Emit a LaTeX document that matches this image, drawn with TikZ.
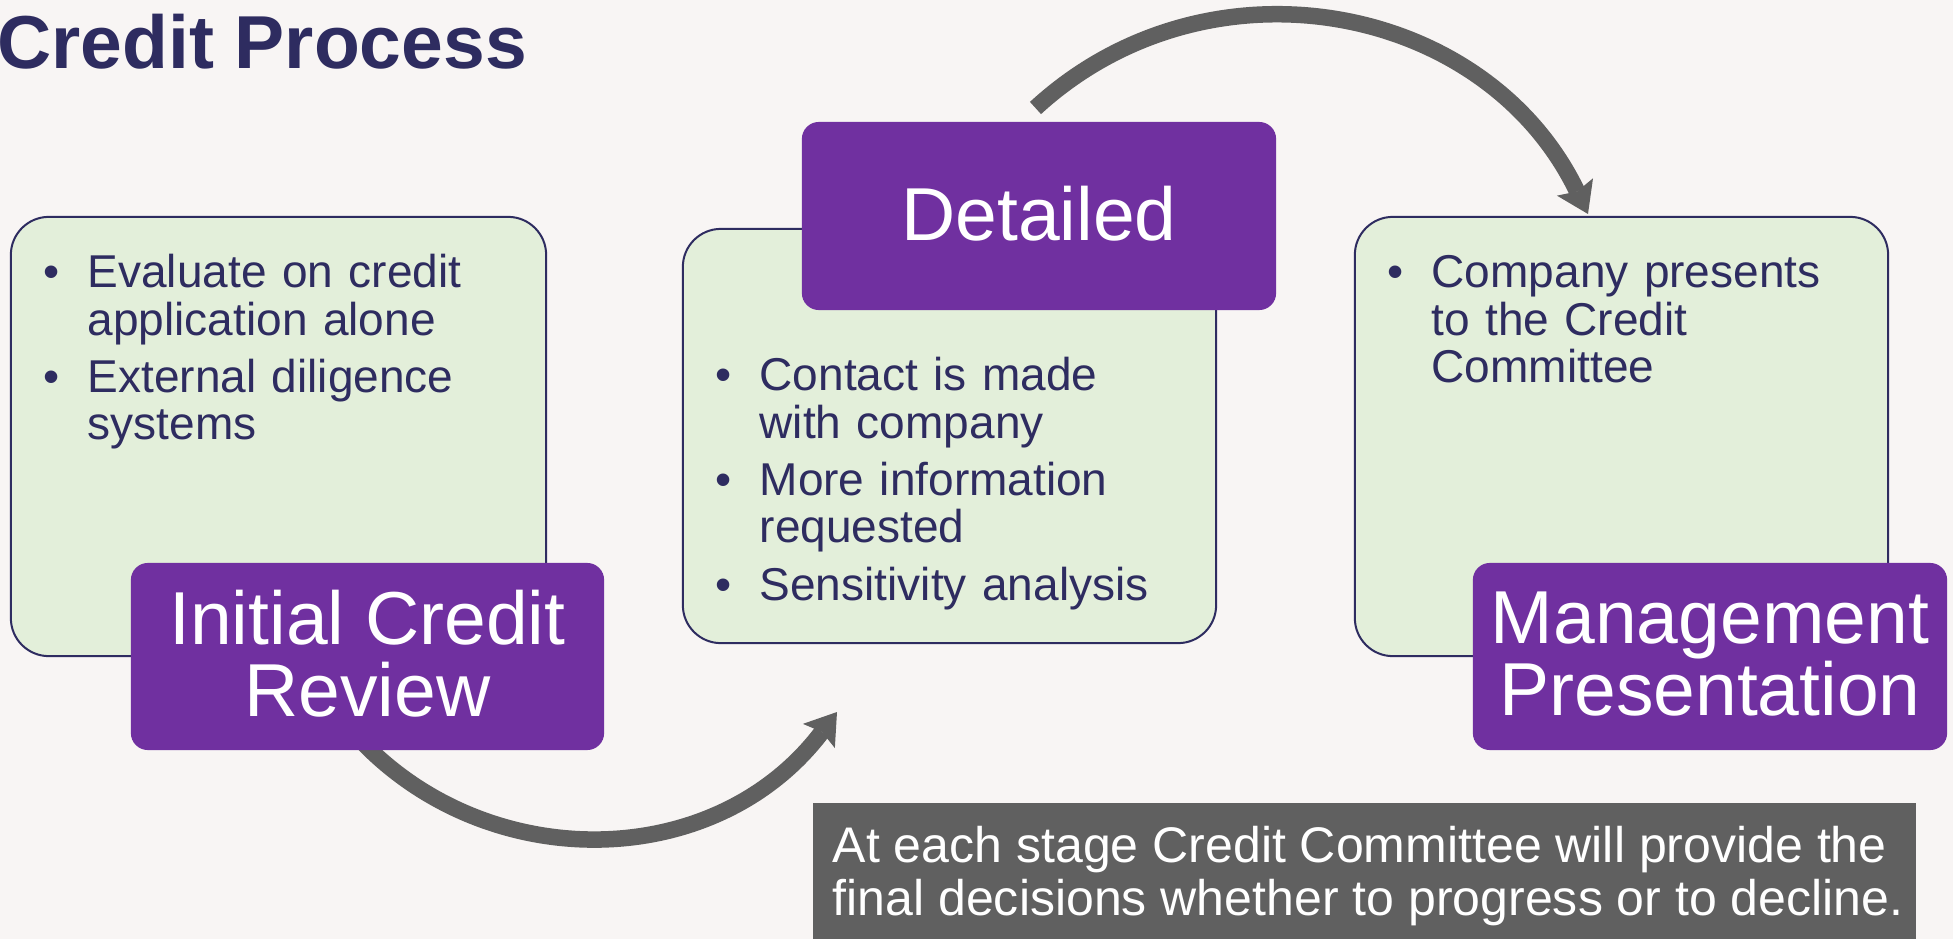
\documentclass[tikz,border=0pt]{standalone}
\usepackage{fontspec}
\setmainfont{Liberation Sans}
\usetikzlibrary{arrows.meta}
\newdimen\pxu \pxu=0.01cm
\definecolor{bg}{HTML}{F8F5F4}
\definecolor{navy}{HTML}{2E2C60}
\definecolor{lgreen}{HTML}{E3EFDA}
\definecolor{purp}{HTML}{7030A0}
\definecolor{dgray}{HTML}{606060}
\newcommand{\bul}[1]{\noindent\hangindent=44\pxu\hangafter=1\makebox[44\pxu][l]{•}#1\par}
\newcommand{\isep}{\vspace{2.7pt}}
\newcommand{\lift}{\rule[-5.5\pxu]{0pt}{0pt}}
\begin{document}
\begin{tikzpicture}[x=0.01cm,y=-0.01cm,
  greenbox/.style={draw=navy, line width=0.02cm, fill=lgreen, rounded corners=0.38cm, inner sep=0},
  purplebox/.style={fill=purp, rounded corners=0.17cm, text=white, align=center, inner sep=0,
    font=\fontsize{21.34pt}{20.49pt}\selectfont},
  bodytext/.style={text=navy, text width=4.8cm, align=left, anchor=north west, inner sep=0,
    font=\fontsize{13.09pt}{13.52pt}\selectfont},
  flowarrow/.style={draw=dgray, line width=0.165cm,
    -{Stealth[length=0.30cm, width=0.40cm, inset=0.05cm, line width=0pt, fill=dgray]}}]
\useasboundingbox[fill=bg] (0,0) rectangle (1953,939);

% title
\node[anchor=base west, inner sep=0, text=navy, font=\bfseries\fontsize{21.34pt}{24pt}\selectfont]
  (title) at (-3.5,68) {Credit Process};

% green content boxes
\node[greenbox, minimum width=5.35cm, minimum height=4.39cm] (green1) at (278.5,436.5) {};
\node[greenbox, minimum width=5.33cm, minimum height=4.14cm] (green2) at (949.5,436) {};
\node[greenbox, minimum width=5.33cm, minimum height=4.39cm] (green3) at (1621.5,436.5) {};

\node[bodytext] (text1) at (43,250.2) {%
  \bul{\rule{0pt}{10.5pt}Evaluate on credit\newline application alone}\isep
  \bul{External diligence\newline systems}};
\node[bodytext] (text2) at (715,353.2) {%
  \bul{\rule{0pt}{10.5pt}Contact is made\newline with company}\isep
  \bul{More information\newline requested}\isep
  \bul{Sensitivity analysis}};
\node[bodytext] (text3) at (1387,250.2) {%
  \bul{\rule{0pt}{10.5pt}Company presents\newline to the Credit\newline Committee}};

% arrows
\coordinate (a1s) at (315.5,679.8);
\coordinate (a1e) at (837,712);
\coordinate (a2s) at (1035.5,108);
\coordinate (a2e) at (1588,214);
\draw[flowarrow] (a1s) .. controls (427.6,874) and (701.7,890.9) .. (a1e);
\draw[flowarrow] (a2s) .. controls (1208.3,-51) and (1486.1,2.3) .. (a2e);

% purple stage boxes
\node[purplebox, minimum width=4.73cm, minimum height=1.87cm] (stage1) at (367.5,656.5) {Initial Credit\\Review\lift};
\node[purplebox, minimum width=4.74cm, minimum height=1.88cm] (stage2) at (1039,216) {Detailed\lift};
\node[purplebox, minimum width=4.74cm, minimum height=1.87cm] (stage3) at (1710,656.5) {Management\\Presentation\lift};

% note box
\node[fill=dgray, minimum width=11.03cm, minimum height=1.36cm, inner sep=0] (note) at (1364.5,871) {};
\node[anchor=north west, inner sep=0, text=white, align=left,
  font=\fontsize{14.23pt}{15.08pt}\selectfont] (notetext) at (832,822)
  {\rule{0pt}{11.4pt}At each stage Credit Committee will provide the\\final decisions whether to progress or to decline.};
\end{tikzpicture}
\end{document}
